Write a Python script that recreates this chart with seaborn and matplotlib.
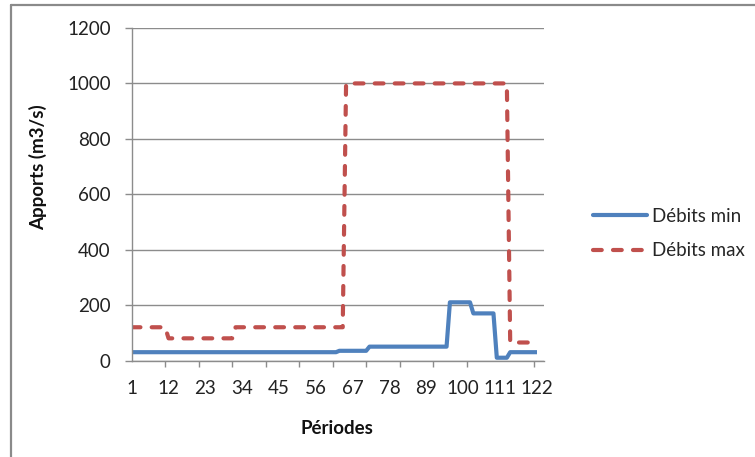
import numpy as np
import pandas as pd
import matplotlib
matplotlib.use("Agg")
import matplotlib.pyplot as plt
import seaborn as sns
from matplotlib.lines import Line2D

# --- data (run-length encoded step series) ---
periods = list(range(1, 123))
min_levels = [30, 35, 50, 210, 170, 10, 30]
min_lengths = [62, 9, 24, 7, 7, 4, 9]
max_levels = [120, 80, 120, 1000, 65]
max_lengths = [11, 20, 33, 49, 9]
x_tick_labels = [1, 12, 23, 34, 45, 56, 67, 78, 89, 100, 111, 122]
x_minor_ticks = [1, 11, 21, 31, 41, 51, 61, 71, 81, 91, 101, 111, 121]
y_ticks = [0, 200, 400, 600, 800, 1000, 1200]

debits_min = np.repeat(min_levels, min_lengths)
debits_max = np.repeat(max_levels, max_lengths)

df = pd.DataFrame({"Période": periods, "Débits min": debits_min, "Débits max": debits_max})

sns.set_theme(style="white")
plt.rcParams["font.family"] = ["Lato", "DejaVu Sans"]

W, H = 755, 457
fig = plt.figure(figsize=(W / 100, H / 100), dpi=100)
ax_l, ax_r, ax_t, ax_b = 131.7, 543.7, 28, 360.5
ax = fig.add_axes([ax_l / W, 1 - ax_b / H, (ax_r - ax_l) / W, (ax_b - ax_t) / H])

blue = "#4F81BD"
red = "#C0504D"
grey = "#8C8C8C"
lw = 3.0
fs = 13.5

sns.lineplot(data=df, x="Période", y="Débits min", ax=ax, color=blue, linewidth=lw)
sns.lineplot(data=df, x="Période", y="Débits max", ax=ax, color=red, linewidth=lw)
lines = ax.get_lines()
lines[0].set_solid_capstyle("butt")
lines[1].set_dashes((2.1, 2.7))
lines[1].set_dash_capstyle("round")

ax.set_xlim(1, 124)
ax.set_ylim(0, 1200)
ax.set_yticks(y_ticks)
ax.set_yticklabels([str(v) for v in y_ticks])
ax.set_xticks(x_tick_labels)
ax.set_xticklabels([str(v) for v in x_tick_labels])
ax.set_xticks(x_minor_ticks, minor=True)

ax.yaxis.grid(True, color=grey, linewidth=1.0)
ax.set_axisbelow(True)
for s in ["top", "right"]:
    ax.spines[s].set_visible(False)
for s in ["left", "bottom"]:
    ax.spines[s].set_color(grey)
    ax.spines[s].set_linewidth(1.0)

ax.tick_params(axis="x", which="major", length=0, pad=14, labelsize=fs, colors="#222222")
ax.tick_params(axis="x", which="minor", bottom=True, length=4.5, width=1.0, color=grey)
ax.tick_params(axis="y", which="major", left=True, length=5, width=1.0, color=grey,
               pad=10, labelsize=fs, labelcolor="#222222")

ax.set_xlabel("Périodes", fontsize=fs, fontweight="bold", color="#111111")
ax.set_ylabel("Apports (m3/s)", fontsize=fs, fontweight="bold", color="#111111")
ax.xaxis.set_label_coords((337 - ax_l) / (ax_r - ax_l), (ax_b - 420) / (ax_b - ax_t))
ax.yaxis.set_label_coords((47 - ax_l) / (ax_r - ax_l), (ax_b - 167.5) / (ax_b - ax_t))

handles = [Line2D([0], [0], color=blue, linewidth=lw),
           Line2D([0], [0], color=red, linewidth=lw, dashes=(2.1, 2.7), dash_capstyle="round")]
leg = fig.legend(handles, ["Débits min", "Débits max"], loc="upper left",
                 bbox_to_anchor=(585 / W, 1 - 200 / H), frameon=False, fontsize=fs,
                 handlelength=2.9, handletextpad=0.25, labelspacing=0.95, borderaxespad=0)

# chart-area border (only left and top edges visible in the reference)
fig.add_artist(Line2D([11 / W, 11 / W], [0, 1 - 5 / H], transform=fig.transFigure,
                      color="#8A8A8A", linewidth=1.6))
fig.add_artist(Line2D([11 / W, 1], [1 - 5 / H, 1 - 5 / H], transform=fig.transFigure,
                      color="#8A8A8A", linewidth=1.6))

fig.savefig("out.png", dpi=100)
